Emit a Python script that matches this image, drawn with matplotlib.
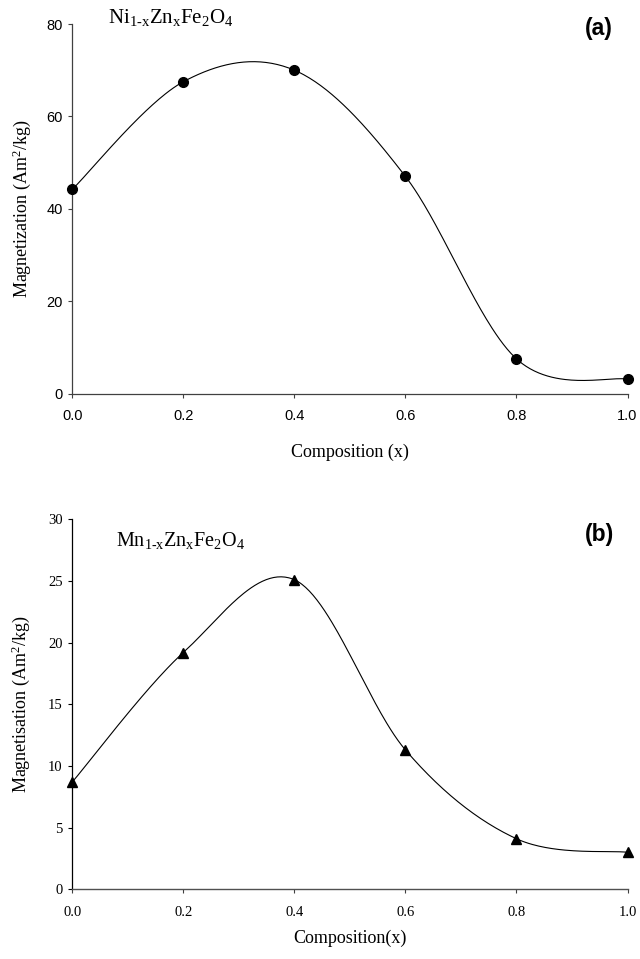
import numpy as np
import matplotlib
matplotlib.use("Agg")
import matplotlib.pyplot as plt
from matplotlib.ticker import FormatStrFormatter

# ---- data ----
composition = [0.0, 0.2, 0.4, 0.6, 0.8, 1.0]
ni_zn_magnetization = [44.2, 67.5, 70.0, 47.0, 7.5, 3.1]
mn_zn_magnetisation = [8.7, 19.2, 25.1, 11.3, 4.1, 3.0]

ni_yticks = [0, 20, 40, 60, 80]
mn_yticks = [0, 5, 10, 15, 20, 25, 30]
xticks = [0.0, 0.2, 0.4, 0.6, 0.8, 1.0]


def excel_smooth(xs, ys, n=60):
    """Excel-style smoothed line (cubic Bezier, Catmull-Rom control points)."""
    P = np.column_stack([xs, ys]).astype(float)
    m = len(P)
    out = []
    t = np.linspace(0, 1, n)[:, None]
    for i in range(m - 1):
        p0 = P[i]
        p3 = P[i + 1]
        pm = P[i - 1] if i > 0 else P[i]
        pp = P[i + 2] if i + 2 < m else P[i + 1]
        c1 = p0 + (p3 - pm) / 6.0
        c2 = p3 - (pp - p0) / 6.0
        seg = ((1 - t) ** 3) * p0 + 3 * ((1 - t) ** 2) * t * c1 + 3 * (1 - t) * t ** 2 * c2 + t ** 3 * p3
        out.append(seg if i == 0 else seg[1:])
    arr = np.vstack(out)
    return arr[:, 0], arr[:, 1]


plt.rcParams['mathtext.fontset'] = 'custom'
plt.rcParams['mathtext.rm'] = 'Liberation Serif'
plt.rcParams['mathtext.it'] = 'Liberation Serif'

fig = plt.figure(figsize=(6.4, 9.59), dpi=100)
W, H = 640.0, 959.0

def add_axes(x0, x1, ytop, ybot):
    return fig.add_axes([x0 / W, 1 - ybot / H, (x1 - x0) / W, (ybot - ytop) / H])

ax1 = add_axes(72.3, 627.5, 24, 393.5)
ax2 = add_axes(72.3, 627.5, 519.3, 889.3)

serif = 'Liberation Serif'
sans = 'Liberation Sans'

# ---- panel (a) ----
sx, sy = excel_smooth(composition, ni_zn_magnetization)
ax1.plot(sx, sy, color='black', lw=0.8, clip_on=False)
ax1.plot(composition, ni_zn_magnetization, 'o', color='black', ms=7, clip_on=False, zorder=5)
ax1.set_xlim(0, 1.0)
ax1.set_ylim(0, 80)
ax1.set_yticks(ni_yticks)
ax1.set_xticks(xticks)
ax1.xaxis.set_major_formatter(FormatStrFormatter('%.1f'))
for lab in ax1.get_xticklabels() + ax1.get_yticklabels():
    lab.set_fontfamily(sans)
    lab.set_fontsize(10.5)
ax1.tick_params(axis='x', direction='out', length=3, width=0.8, pad=8.5, color='#404040')
ax1.tick_params(axis='y', direction='out', length=3, width=0.8, pad=4, color='#404040')
ax1.set_xlabel('Composition (x)', fontfamily=serif, fontsize=13)
ax1.set_ylabel(r'Magnetization (Am$^{2}$/kg)', fontfamily=serif, fontsize=13)
ax1.xaxis.set_label_coords(0.5, -0.135)
ax1.yaxis.set_label_coords(-0.07, 0.5)
for s in ['top', 'right']:
    ax1.spines[s].set_visible(False)
for s in ['left', 'bottom']:
    ax1.spines[s].set_color('#404040')
    ax1.spines[s].set_linewidth(0.9)
ax1.text(0.0643, 1.002, r'Ni$_{\mathrm{1\text{-}x}}$Zn$_{\mathrm{x}}$Fe$_{\mathrm{2}}$O$_{\mathrm{4}}$',
         transform=ax1.transAxes, fontfamily=serif, fontsize=15, ha='left', va='baseline')
fig.text(599 / W, 1 - 29 / H, '(a)', fontfamily=sans, fontweight='bold', fontsize=16.5,
         ha='center', va='center')

# ---- panel (b) ----
sx, sy = excel_smooth(composition, mn_zn_magnetisation)
ax2.plot(sx, sy, color='black', lw=0.8, clip_on=False)
ax2.plot(composition, mn_zn_magnetisation, '^', color='black', ms=7, clip_on=False, zorder=5)
ax2.set_xlim(0, 1.0)
ax2.set_ylim(0, 30)
ax2.set_yticks(mn_yticks)
ax2.set_xticks(xticks)
ax2.xaxis.set_major_formatter(FormatStrFormatter('%.1f'))
for lab in ax2.get_xticklabels() + ax2.get_yticklabels():
    lab.set_fontfamily(serif)
    lab.set_fontsize(10.5)
ax2.tick_params(axis='x', direction='out', length=3, width=0.8, pad=9, color='#404040')
ax2.tick_params(axis='y', direction='out', length=3, width=0.8, pad=4, color='black')
ax2.set_xlabel('Composition(x)', fontfamily=serif, fontsize=13)
ax2.set_ylabel(r'Magnetisation (Am$^{2}$/kg)', fontfamily=serif, fontsize=13)
ax2.xaxis.set_label_coords(0.5, -0.110)
ax2.yaxis.set_label_coords(-0.072, 0.5)
for s in ['top', 'right']:
    ax2.spines[s].set_visible(False)
ax2.spines['left'].set_color('black')
ax2.spines['bottom'].set_color('#505050')
ax2.spines['left'].set_linewidth(0.9)
ax2.spines['bottom'].set_linewidth(1.0)
ax2.text(0.0796, 0.928, r'Mn$_{\mathrm{1\text{-}x}}$Zn$_{\mathrm{x}}$Fe$_{\mathrm{2}}$O$_{\mathrm{4}}$',
         transform=ax2.transAxes, fontfamily=serif, fontsize=14.5, ha='left', va='baseline')
fig.text(599 / W, 1 - 535 / H, '(b)', fontfamily=sans, fontweight='bold', fontsize=16.5,
         ha='center', va='center')

fig.savefig('out.png', dpi=100)
